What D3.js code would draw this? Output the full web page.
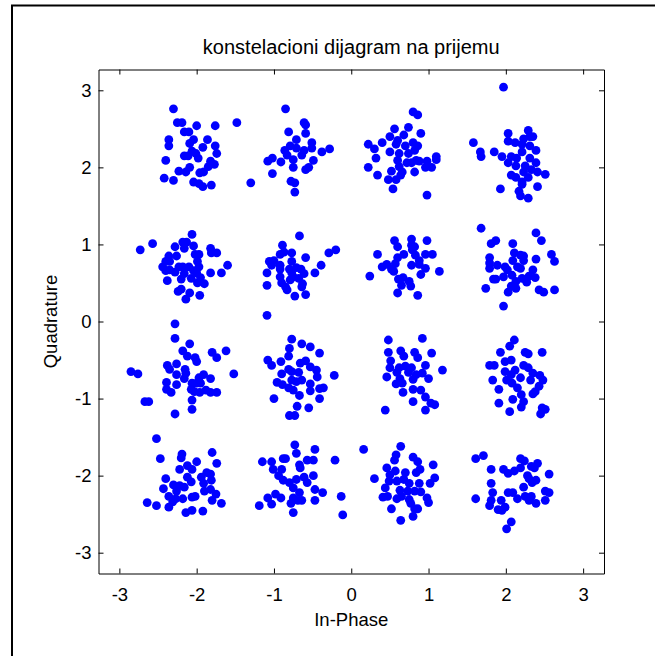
<!DOCTYPE html>
<html>
<head>
<meta charset="utf-8">
<script src="https://cdn.jsdelivr.net/npm/d3@7"></script>
<style>
  body { margin: 0; background: #fff; }
  text { font-family: "Liberation Sans", Arial, sans-serif; fill: #000; }
</style>
</head>
<body>
<div id="chart"></div>
<script>
// received symbols, [in-phase, quadrature], grouped by constellation row
const row1 = [
  [-2.30,2.76],[-2.25,2.58],[-2.19,2.58],[-2.16,2.46],[-2.10,2.46],[-2.00,2.54],[-1.76,2.54],[-2.36,2.36],[-2.36,2.28],[-2.04,2.36],
  [-2.09,2.31],[-1.86,2.36],[-1.92,2.26],[-1.76,2.28],[-1.74,2.18],[-2.06,2.21],[-2.01,2.18],[-1.98,2.12],[-2.16,2.15],[-2.11,2.15],
  [-2.40,2.09],[-1.82,2.08],[-1.77,2.04],[-1.85,2.01],[-2.09,2.00],[-2.23,1.95],[-2.14,1.94],[-1.96,1.93],[-1.91,1.94],[-2.42,1.86],
  [-2.30,1.83],[-2.04,1.81],[-1.97,1.79],[-1.92,1.75],[-1.81,1.77],[-1.48,2.58],[-1.30,1.80],
  [-0.85,2.76],[-0.61,2.58],[-0.59,2.55],[-0.81,2.46],[-0.59,2.44],[-0.71,2.36],[-0.51,2.32],[-0.51,2.25],[-0.79,2.28],[-0.86,2.22],
  [-0.71,2.25],[-0.61,2.22],[-0.38,2.20],[-0.28,2.24],[-0.64,2.16],[-0.83,2.16],[-0.49,2.09],[-1.02,2.12],[-1.08,2.08],[-0.91,2.07],
  [-0.75,2.10],[-0.75,2.00],[-0.59,1.97],[-0.55,2.00],[-1.02,1.92],[-0.78,1.82],[-0.73,1.80],[-0.73,1.68],
  [0.80,2.72],[0.86,2.68],[0.56,2.50],[0.74,2.52],[0.90,2.44],[0.50,2.40],[0.68,2.42],[0.60,2.35],[0.22,2.30],[0.30,2.24],
  [0.40,2.32],[0.58,2.30],[0.70,2.28],[0.80,2.32],[0.86,2.28],[0.50,2.20],[0.62,2.18],[0.74,2.18],[0.82,2.22],[0.32,2.12],
  [0.60,2.09],[0.72,2.06],[0.78,2.06],[0.84,2.09],[0.88,2.08],[0.98,2.08],[1.10,2.14],[1.10,2.10],[0.22,2.00],[0.62,2.01],
  [0.66,1.94],[0.82,1.94],[0.96,2.00],[1.04,2.00],[0.34,1.90],[0.52,1.95],[0.64,1.90],[0.48,1.84],[0.58,1.84],[0.54,1.72],[0.98,1.64],
  [1.97,3.04],[1.58,2.32],[1.67,2.20],[1.68,2.14],[1.85,2.20],[1.95,2.14],[2.03,2.44],[2.03,2.34],[2.12,2.32],[2.21,2.30],
  [2.23,2.37],[2.29,2.48],[2.31,2.40],[2.35,2.40],[2.31,2.28],[2.39,2.22],[2.21,2.20],[2.07,2.14],[2.14,2.12],[2.03,2.06],
  [2.13,2.02],[2.31,2.12],[2.39,2.06],[2.25,2.02],[2.33,1.97],[2.23,1.94],[2.41,1.94],[2.51,1.91],[2.07,1.90],[2.13,1.87],
  [2.29,1.87],[2.21,1.81],[2.21,1.78],[2.41,1.75],[1.93,1.72],[2.17,1.69],[2.19,1.63],[2.29,1.60]
];

const row2 = [
  [-2.73,0.93],[-2.57,1.01],[-2.06,1.13],[-2.18,1.03],[-2.13,1.03],[-2.04,0.98],[-2.28,0.97],[-2.16,0.95],[-2.02,0.87],[-1.97,0.87],
  [-1.82,0.95],[-1.81,0.89],[-1.74,0.89],[-2.36,0.85],[-2.26,0.85],[-2.40,0.78],[-2.35,0.78],[-2.44,0.71],[-2.40,0.66],[-2.35,0.67],
  [-2.23,0.71],[-2.18,0.71],[-2.10,0.71],[-1.99,0.78],[-1.97,0.71],[-2.28,0.64],[-2.16,0.62],[-2.04,0.66],[-2.00,0.63],[-2.20,0.55],
  [-2.07,0.56],[-1.95,0.57],[-1.60,0.73],[-1.82,0.63],[-1.68,0.63],[-2.38,0.53],[-1.99,0.50],[-1.90,0.49],[-2.20,0.42],[-2.24,0.39],
  [-2.09,0.37],[-1.96,0.34],[-2.14,0.29],
  [-0.67,1.11],[-0.89,0.99],[-0.92,0.87],[-0.87,0.90],[-0.77,0.89],[-0.59,0.83],[-1.06,0.78],[-1.00,0.79],[-1.03,0.73],[-0.92,0.73],
  [-0.77,0.78],[-1.09,0.63],[-0.92,0.68],[-0.80,0.68],[-0.71,0.70],[-0.65,0.68],[-0.77,0.63],[-0.61,0.62],[-0.47,0.63],[-0.39,0.73],
  [-0.29,0.89],[-0.20,0.93],[-0.92,0.58],[-0.75,0.58],[-0.68,0.56],[-0.90,0.50],[-0.79,0.54],[-1.09,0.47],[-0.85,0.45],[-0.83,0.41],
  [-0.63,0.49],[-0.64,0.45],[-0.73,0.33],[-0.59,0.35],[-1.09,0.08],
  [0.56,1.05],[0.78,1.07],[0.98,1.05],[0.60,0.97],[0.78,0.99],[0.82,0.97],[0.34,0.87],[0.79,0.93],[0.68,0.87],[0.60,0.83],
  [0.83,0.86],[0.96,0.87],[1.05,0.87],[0.88,0.79],[0.46,0.74],[0.40,0.71],[0.57,0.75],[0.52,0.68],[0.55,0.65],[0.78,0.73],
  [0.88,0.74],[0.96,0.69],[1.14,0.65],[0.24,0.59],[0.90,0.61],[0.61,0.55],[0.67,0.57],[0.75,0.52],[0.65,0.47],[0.77,0.46],
  [0.60,0.37],[0.86,0.34],
  [1.68,1.21],[2.39,1.15],[2.46,1.05],[1.81,1.01],[1.87,1.05],[2.09,1.01],[2.11,0.89],[2.19,0.86],[2.23,0.85],[2.59,0.87],
  [2.63,0.78],[2.39,0.81],[1.79,0.83],[1.79,0.76],[1.79,0.69],[1.89,0.73],[2.09,0.79],[2.23,0.79],[2.15,0.71],[2.19,0.69],
  [1.99,0.71],[2.02,0.67],[2.35,0.67],[1.97,0.58],[1.84,0.55],[1.87,0.55],[2.08,0.60],[2.21,0.56],[2.30,0.59],[2.38,0.57],
  [2.27,0.51],[2.13,0.52],[2.07,0.46],[2.13,0.43],[1.74,0.43],[2.03,0.38],[2.43,0.41],[2.49,0.38],[2.63,0.41],[1.97,0.20]
];

const row3 = [
  [-2.28,-0.03],[-2.28,-0.22],[-2.09,-0.29],[-2.18,-0.38],[-2.12,-0.45],[-2.02,-0.47],[-2.00,-0.52],[-1.80,-0.40],[-1.74,-0.47],[-1.62,-0.38],
  [-2.38,-0.57],[-2.35,-0.62],[-2.26,-0.55],[-2.15,-0.62],[-2.14,-0.67],[-2.26,-0.69],[-2.85,-0.65],[-2.76,-0.68],[-1.52,-0.68],[-1.91,-0.69],
  [-1.97,-0.73],[-1.82,-0.74],[-2.39,-0.79],[-2.26,-0.82],[-2.16,-0.74],[-2.06,-0.80],[-2.00,-0.80],[-1.95,-0.80],[-2.39,-0.88],[-2.33,-0.92],
  [-2.07,-0.88],[-2.03,-0.91],[-1.96,-0.92],[-1.88,-0.89],[-1.82,-0.92],[-1.74,-0.92],[-2.67,-1.04],[-2.62,-1.04],[-2.06,-1.02],[-2.06,-1.14],
  [-2.28,-1.20],
  [-0.77,-0.23],[-0.64,-0.29],[-0.53,-0.33],[-0.80,-0.35],[-0.41,-0.41],[-0.81,-0.45],[-1.08,-0.50],[-1.03,-0.57],[-0.91,-0.52],[-0.66,-0.54],
  [-0.59,-0.51],[-0.53,-0.59],[-0.45,-0.63],[-0.81,-0.62],[-0.90,-0.68],[-0.77,-0.65],[-0.68,-0.66],[-0.44,-0.72],[-0.22,-0.70],[-0.96,-0.79],
  [-0.89,-0.82],[-0.77,-0.76],[-0.71,-0.78],[-0.64,-0.76],[-0.53,-0.81],[-0.81,-0.86],[-0.75,-0.89],[-0.53,-0.90],[-0.41,-0.87],[-0.36,-0.86],
  [-1.00,-1.00],[-0.67,-0.96],[-0.41,-1.00],[-0.70,-1.10],[-0.55,-1.12],[-0.80,-1.22],[-0.73,-1.22],
  [0.48,-0.24],[0.92,-0.22],[0.48,-0.40],[0.64,-0.38],[0.82,-0.40],[1.04,-0.41],[0.51,-0.51],[0.68,-0.45],[0.86,-0.47],[0.50,-0.60],
  [0.62,-0.60],[0.70,-0.58],[0.78,-0.60],[0.96,-0.57],[1.18,-0.63],[0.59,-0.66],[0.74,-0.66],[0.46,-0.72],[0.84,-0.69],[0.92,-0.67],
  [0.63,-0.74],[0.80,-0.75],[1.00,-0.74],[0.58,-0.81],[0.66,-0.80],[0.67,-0.92],[0.80,-0.88],[0.90,-0.89],[0.96,-0.98],[0.80,-1.04],
  [1.03,-1.06],[1.08,-1.08],[0.44,-1.15],[0.96,-1.15],
  [2.11,-0.24],[2.05,-0.32],[1.93,-0.40],[2.25,-0.40],[2.29,-0.42],[2.47,-0.40],[2.07,-0.50],[1.99,-0.52],[1.79,-0.57],[1.85,-0.57],
  [2.23,-0.57],[2.29,-0.60],[1.99,-0.65],[2.12,-0.63],[2.07,-0.69],[2.19,-0.73],[2.35,-0.67],[2.44,-0.70],[2.48,-0.76],[1.83,-0.76],
  [2.01,-0.76],[2.08,-0.80],[2.32,-0.76],[2.15,-0.86],[2.43,-0.84],[1.91,-0.88],[2.38,-0.91],[2.35,-0.94],[2.20,-0.95],[2.09,-1.01],
  [2.23,-1.04],[1.91,-1.06],[2.20,-1.11],[2.47,-1.12],[2.51,-1.14],[2.05,-1.17],[2.45,-1.20]
];

const row4 = [
  [-2.52,-1.52],[-2.47,-1.78],[-2.19,-1.72],[-2.20,-1.77],[-2.00,-1.82],[-1.80,-1.70],[-1.74,-1.84],[-2.12,-1.87],[-2.06,-1.92],[-2.22,-1.92],
  [-1.87,-1.96],[-1.82,-1.98],[-1.94,-2.02],[-1.81,-2.06],[-2.40,-2.04],[-2.12,-2.02],[-2.07,-2.08],[-2.30,-2.12],[-2.22,-2.13],[-2.16,-2.15],
  [-1.91,-2.10],[-2.43,-2.17],[-2.26,-2.20],[-1.90,-2.20],[-1.82,-2.18],[-1.75,-2.24],[-2.36,-2.27],[-2.27,-2.30],[-2.18,-2.30],[-2.06,-2.28],
  [-2.02,-2.27],[-1.80,-2.32],[-1.68,-2.36],[-2.64,-2.35],[-2.52,-2.39],[-2.36,-2.41],[-2.31,-2.34],[-2.14,-2.48],[-2.06,-2.45],[-1.92,-2.46],
  [-0.73,-1.60],[-0.71,-1.71],[-0.47,-1.66],[-0.21,-1.80],[-1.15,-1.82],[-1.03,-1.82],[-0.88,-1.78],[-0.85,-1.78],[-0.67,-1.86],[-0.66,-1.90],
  [-0.57,-1.80],[-0.49,-1.80],[-1.01,-1.92],[-0.90,-1.92],[-0.94,-2.00],[-0.88,-2.06],[-0.80,-2.09],[-0.71,-2.05],[-0.61,-2.02],[-0.57,-2.09],
  [-0.49,-2.00],[-0.75,-2.16],[-0.67,-2.22],[-0.47,-2.18],[-0.37,-2.22],[-0.98,-2.24],[-1.08,-2.29],[-0.91,-2.29],[-0.75,-2.29],[-0.69,-2.32],
  [-0.64,-2.32],[-0.47,-2.32],[-1.19,-2.39],[-1.03,-2.37],[-0.78,-2.36],[-0.75,-2.48],[-0.13,-2.27],[-0.11,-2.51],
  [0.16,-1.66],[0.64,-1.62],[0.58,-1.73],[0.56,-1.80],[0.80,-1.76],[0.86,-1.82],[1.06,-1.86],[0.46,-1.90],[0.57,-1.94],[0.70,-1.96],
  [0.84,-1.96],[0.89,-1.92],[0.30,-2.04],[0.50,-1.99],[0.49,-2.07],[0.59,-2.07],[0.68,-2.05],[0.75,-2.10],[0.88,-2.10],[1.02,-2.10],
  [1.08,-2.03],[0.44,-2.16],[0.63,-2.19],[0.73,-2.20],[0.82,-2.20],[0.90,-2.21],[0.41,-2.28],[0.47,-2.27],[0.59,-2.30],[0.65,-2.27],
  [0.75,-2.31],[0.77,-2.36],[0.98,-2.29],[1.00,-2.35],[0.52,-2.43],[0.82,-2.43],[0.86,-2.43],[0.80,-2.53],[0.64,-2.58],
  [1.61,-1.78],[1.71,-1.74],[1.81,-1.92],[1.97,-1.92],[2.03,-1.97],[2.11,-1.94],[2.19,-1.78],[2.24,-1.81],[2.19,-1.90],[2.33,-1.88],
  [2.41,-1.84],[2.37,-1.90],[2.56,-1.98],[2.28,-2.00],[2.30,-2.04],[2.39,-2.06],[2.34,-2.09],[1.81,-2.10],[2.23,-2.15],[1.83,-2.22],
  [2.03,-2.22],[2.09,-2.22],[2.51,-2.20],[2.56,-2.22],[1.61,-2.30],[1.81,-2.32],[1.94,-2.32],[2.15,-2.30],[2.25,-2.27],[2.33,-2.27],
  [2.30,-2.32],[2.51,-2.32],[2.39,-2.36],[1.79,-2.39],[1.90,-2.44],[1.99,-2.41],[1.95,-2.45],[2.07,-2.60],[2.01,-2.69]
];

const axisLimits = [-3.27, 3.27];
const tickValues = [-3, -2, -1, 0, 1, 2, 3];
const titleText = "konstelacioni dijagram na prijemu";
const xLabel = "In-Phase";
const yLabel = "Quadrature";

const width = 655;
const height = 656;
const margin = { top: 69.5, right: 51, bottom: 82.5, left: 98.5 };
const plotW = width - margin.left - margin.right;
const plotH = height - margin.top - margin.bottom;

const svg = d3
  .select("#chart")
  .append("svg")
  .attr("width", width)
  .attr("height", height);

// figure frame (open on the right and bottom like the cropped original)
svg
  .append("rect")
  .attr("x", 12)
  .attr("y", 5.5)
  .attr("width", 700)
  .attr("height", 700)
  .attr("fill", "none")
  .attr("stroke", "#000")
  .attr("stroke-width", 2);

const g = svg
  .append("g")
  .attr("transform", `translate(${margin.left}, ${margin.top})`);

const x = d3.scaleLinear().domain(axisLimits).range([0, plotW]);
const y = d3.scaleLinear().domain(axisLimits).range([plotH, 0]);

const allPoints = row1.concat(row2, row3, row4);

g.selectAll("circle")
  .data(allPoints)
  .enter()
  .append("circle")
  .attr("cx", (d) => x(d[0]))
  .attr("cy", (d) => y(d[1]))
  .attr("r", 4.4)
  .attr("fill", "#0000ff");

// axes, ticks pointing inward on all four sides
const tickLen = 5;
const fontSize = "18.5px";
const plainNum = (d) => String(d); // hyphen minus, no decimals

g.append("g")
  .attr("transform", `translate(0, ${plotH})`)
  .call(d3.axisBottom(x).tickValues(tickValues).tickFormat(plainNum).tickSizeInner(-tickLen).tickSizeOuter(0).tickPadding(14));

g.append("g")
  .call(d3.axisLeft(y).tickValues(tickValues).tickFormat(plainNum).tickSizeInner(-tickLen).tickSizeOuter(0).tickPadding(7));

g.append("g")
  .call(d3.axisTop(x).tickValues(tickValues).tickSizeInner(-tickLen).tickSizeOuter(0).tickFormat(""));

g.append("g")
  .attr("transform", `translate(${plotW}, 0)`)
  .call(d3.axisRight(y).tickValues(tickValues).tickSizeInner(-tickLen).tickSizeOuter(0).tickFormat(""));

g.selectAll(".domain, .tick line").attr("stroke", "#000").attr("stroke-width", 1);
g.selectAll(".tick text")
  .attr("fill", "#000")
  .style("font-size", fontSize)
  .style("font-family", '"Liberation Sans", Arial, sans-serif');

// labels
svg
  .append("text")
  .attr("x", margin.left + plotW / 2)
  .attr("y", 54)
  .attr("text-anchor", "middle")
  .style("font-size", "20px")
  .text(titleText);

svg
  .append("text")
  .attr("x", margin.left + plotW / 2)
  .attr("y", 626)
  .attr("text-anchor", "middle")
  .style("font-size", fontSize)
  .text(xLabel);

svg
  .append("text")
  .attr("transform", `translate(57, ${margin.top + plotH / 2}) rotate(-90)`)
  .attr("text-anchor", "middle")
  .style("font-size", fontSize)
  .text(yLabel);
</script>
</body>
</html>
